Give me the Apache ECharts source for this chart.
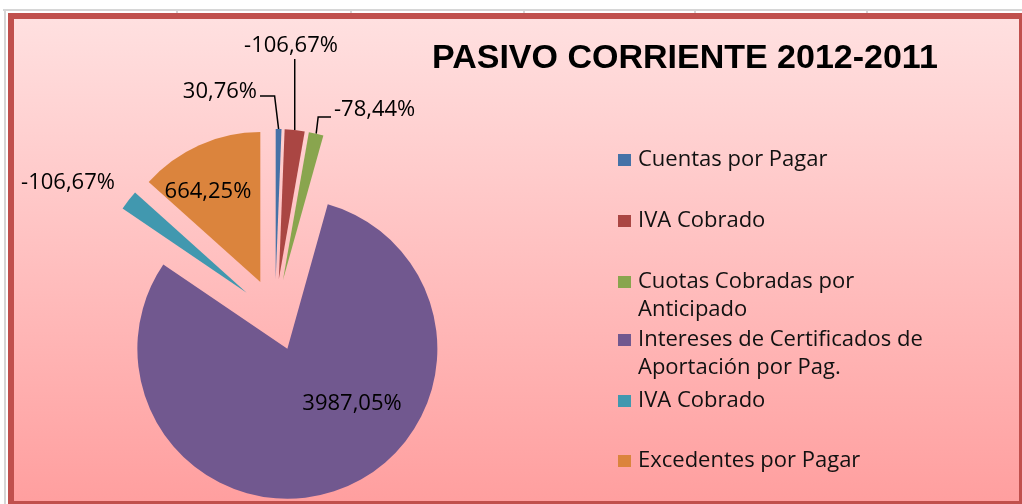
<!DOCTYPE html>
<html>
<head>
<meta charset="utf-8">
<script src="https://cdn.jsdelivr.net/npm/echarts@6/dist/echarts.min.js"></script>
<style>
  html, body { margin: 0; padding: 0; background: #fff; }
  #chart { width: 1022px; height: 504px; }
</style>
</head>
<body>
<div id="chart"></div>
<script>
const titulo = 'PASIVO CORRIENTE 2012-2011'
const categorias = [
  'Cuentas por Pagar',
  'IVA Cobrado',
  'Cuotas Cobradas por\nAnticipado',
  'Intereses de Certificados de\nAportación por Pag.',
  'IVA Cobrado',
  'Excedentes por Pagar'
]
// variacion 2012-2011 en %, el signo solo va en la etiqueta
const variacion = [30.76, -106.67, -78.44, 3987.05, -106.67, 664.25]
const colores = ['#4572a7', '#aa4643', '#89a54e', '#71588f', '#4198af', '#db843d']

// layout bits
const centro = [275, 315]
const radio = 150
const explosion = 36
const legendY = [160, 221, 282, 340, 401, 461]
const legendLH = 28
const labelPos = [
  { x: 257, y: 92, align: 'right', line: 'left' },
  { x: 291, y: 46, align: 'center', line: 'up' },
  { x: 334, y: 110, align: 'left', line: 'right' },
  { x: 352, y: 404, align: 'center' },
  { x: 68, y: 183, align: 'center' },
  { x: 208, y: 192, align: 'center' }
]

const fmt = v => v.toFixed(2).replace('.', ',') + '%'

const chart = echarts.init(document.getElementById('chart'))

const legends = categorias.map((c, i) => {
  const lines = c.split('\n').length
  const txt = lines > 1 ? '\n' + c : c
  const h = Math.max(12, (lines > 1 ? 3 : 1) * legendLH)
  return {
    data: [String(i)],
    left: 618,
    top: legendY[i] - h / 2,
    orient: 'vertical',
    icon: 'rect',
    itemWidth: 13,
    itemHeight: 12,
    itemGap: 0,
    padding: 0,
    selectedMode: false,
    formatter: () => txt,
    textStyle: { fontFamily: 'Open Sans', fontSize: 22, color: '#111', lineHeight: legendLH, padding: [0, 0, 0, 2] }
  }
})

// push the line start out to the exploded slice edge
const explode = pt => {
  const dx = pt[0] - centro[0]
  const dy = pt[1] - centro[1]
  const d = Math.sqrt(dx * dx + dy * dy) || 1
  return [pt[0] + dx / d * explosion, pt[1] + dy / d * explosion]
}

chart.setOption({
  animation: false,
  graphic: [
    { type: 'rect', z: -10, silent: true, shape: { x: 0, y: 0, width: 1022, height: 504 }, style: { fill: '#fff' } },
    { type: 'rect', z: -9, silent: true, shape: { x: 3, y: 9, width: 1019, height: 2 }, style: { fill: '#d6d6d6' } },
    { type: 'rect', z: -9, silent: true, shape: { x: 4, y: 9, width: 2, height: 495 }, style: { fill: '#d6d6d6' } },
    ...[176, 350, 523, 694, 866].map(x => ({
      type: 'rect', z: -9, silent: true, shape: { x: x, y: 9, width: 2, height: 5 }, style: { fill: '#d6d6d6' }
    })),
    { type: 'rect', z: -8, silent: true, shape: { x: 8, y: 13, width: 1014, height: 491 }, style: { fill: '#c0504d' } },
    {
      type: 'rect', z: -7, silent: true,
      shape: { x: 14, y: 19, width: 1005, height: 482 },
      style: {
        fill: new echarts.graphic.LinearGradient(0, 0, 0, 1, [
          { offset: 0, color: '#ffe0e0' },
          { offset: 1, color: '#ff9f9f' }
        ])
      }
    }
  ],
  title: {
    text: titulo,
    left: 427,
    top: 37,
    textStyle: { fontFamily: 'Liberation Sans', fontWeight: 'bold', fontSize: 34, color: '#000' }
  },
  legend: legends,
  series: [
    {
      // the slices, all pulled out
      type: 'pie',
      radius: radio,
      center: centro,
      startAngle: 90,
      clockwise: true,
      selectedMode: 'multiple',
      selectedOffset: explosion,
      silent: true,
      emphasis: { disabled: true },
      label: { show: false },
      labelLine: { show: false },
      data: variacion.map((v, i) => ({
        name: String(i),
        value: Math.abs(v),
        selected: true,
        itemStyle: { color: colores[i] }
      }))
    },
    {
      // same pie, invisible, only carries the labels
      type: 'pie',
      radius: radio,
      center: centro,
      startAngle: 90,
      clockwise: true,
      silent: true,
      avoidLabelOverlap: false,
      emphasis: { disabled: true },
      itemStyle: { color: 'rgba(0,0,0,0)' },
      data: variacion.map((v, i) => ({
        name: String(i),
        value: Math.abs(v),
        labelLine: { show: !!labelPos[i].line }
      })),
      label: {
        formatter: p => fmt(variacion[p.dataIndex]),
        fontFamily: 'Open Sans',
        fontSize: 22,
        color: '#000'
      },
      labelLine: { lineStyle: { color: '#000', width: 1.5 } },
      labelLayout: p => {
        const pos = labelPos[p.dataIndex]
        const out = { x: pos.x, y: pos.y, align: pos.align, verticalAlign: 'middle' }
        const pts = p.labelLinePoints
        if (pos.line && pts) {
          const p0 = explode(pts[0])
          if (pos.line === 'left') out.labelLinePoints = [p0, [p0[0] - 4, 96], [pos.x + 3, 96]]
          if (pos.line === 'up') out.labelLinePoints = [p0, [p0[0], 90], [p0[0], 59]]
          if (pos.line === 'right') out.labelLinePoints = [p0, [p0[0] + 2, 117], [pos.x - 3, 117]]
        }
        return out
      }
    }
  ]
})
</script>
</body>
</html>
